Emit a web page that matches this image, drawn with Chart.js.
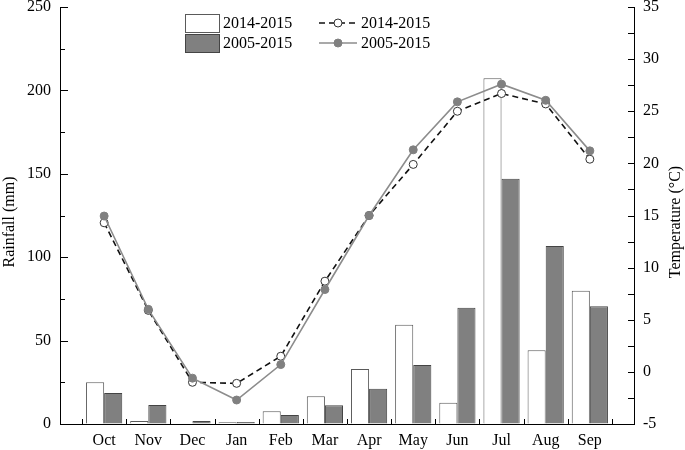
<!DOCTYPE html>
<html>
<head>
<meta charset="utf-8">
<script src="https://cdn.jsdelivr.net/npm/chart.js@4"></script>
<style>
    html, body { margin: 0; padding: 0; background: #fff; }
    #wrap { width: 685px; height: 450px; }
</style>
</head>
<body>
<div id="wrap"><canvas id="chart"></canvas></div>
<script>
// Monthly data, Oct to Sep
const months = ['Oct', 'Nov', 'Dec', 'Jan', 'Feb', 'Mar', 'Apr', 'May', 'Jun', 'Jul', 'Aug', 'Sep'];
const seriesLabels = ['2014-2015', '2005-2015'];
const axisTitles = ['Rainfall (mm)', 'Temperature (°C)'];

// Rainfall (mm)
const rain1415 = [25.0, 1.8, 0.3, 1.0, 7.6, 16.6, 33.0, 59.5, 12.8, 207.3, 44.2, 79.9];
const rain0515 = [18.6, 11.4, 1.8, 1.2, 5.4, 11.2, 21.2, 35.4, 69.7, 147.1, 106.7, 70.6];

// Temperature (°C)
const temp1415 = [14.3, 5.9, -1.0, -1.1, 1.5, 8.7, 15.0, 19.9, 25.0, 26.7, 25.7, 20.4];
const temp0515 = [14.95, 6.0, -0.6, -2.7, 0.7, 7.9, 15.0, 21.3, 25.9, 27.6, 26.05, 21.2];

// Axis ranges
const rainMin = 0, rainMax = 250, rainStep = 50;
const tempMin = -5, tempMax = 35, tempStep = 5;

const FONT = "'Liberation Serif', 'Times New Roman', serif";
const FONT_SIZE = 16;

// one empty slot on each side, so the months sit inside the frame like the original
const labels = ['', ...months, ''];
const pad = arr => [null, ...arr, null];

/**
 * Inward tick marks on all three axes
 */
const insideTicks = {
    id: 'insideTicks',
    afterDatasetsDraw(chart) {
        const { ctx, chartArea, scales } = chart;
        const line = (x1, y1, x2, y2) => {
            ctx.beginPath();
            ctx.moveTo(x1, y1);
            ctx.lineTo(x2, y2);
            ctx.stroke();
        };
        ctx.save();
        ctx.strokeStyle = '#000';
        ctx.lineWidth = 1;

        for (let v = rainMin; v <= rainMax; v += rainStep / 2) {
            const py = Math.round(scales.y.getPixelForValue(v)) + 0.5;
            line(chartArea.left, py, chartArea.left + (v % rainStep === 0 ? 8 : 5), py);
        }
        for (let v = tempMin; v <= tempMax; v += tempStep / 2) {
            const py = Math.round(scales.y2.getPixelForValue(v)) + 0.5;
            line(chartArea.right, py, chartArea.right - 6, py);
        }
        for (let i = 0; i <= months.length; i++) {
            const px = Math.round(scales.x.getPixelForValue(i + 0.5)) + 0.5;
            line(px, chartArea.bottom, px, chartArea.bottom - 5);
        }
        ctx.restore();
    }
};

/**
 * Axis titles, both reading bottom to top
 */
const axisTitleText = {
    id: 'axisTitleText',
    afterDraw(chart) {
        const { ctx } = chart;
        ctx.save();
        ctx.font = FONT_SIZE + 'px ' + FONT;
        ctx.fillStyle = '#000';
        ctx.textAlign = 'center';
        ctx.textBaseline = 'middle';
        [[10, axisTitles[0]], [676, axisTitles[1]]].forEach(([x, text]) => {
            ctx.save();
            ctx.translate(x, 222);
            ctx.rotate(-Math.PI / 2);
            ctx.fillText(text, 0, 0);
            ctx.restore();
        });
        ctx.restore();
    }
};

/**
 * Two-column legend: bars on the left, lines on the right
 */
const boxLegend = {
    id: 'boxLegend',
    afterDraw(chart) {
        const { ctx } = chart;
        const ds = chart.data.datasets;
        ctx.save();
        ctx.font = FONT_SIZE + 'px ' + FONT;
        ctx.fillStyle = '#000';
        ctx.textBaseline = 'middle';

        const rows = [23, 43];
        // bar swatches
        [0, 1].forEach((k, r) => {
            const top = rows[r] - 9;
            ctx.fillStyle = ds[k].backgroundColor;
            ctx.fillRect(185.5, top + 0.5, 34, 18);
            ctx.strokeStyle = ds[k].borderColor;
            ctx.lineWidth = 1;
            ctx.strokeRect(185.5, top + 0.5, 34, 18);
            ctx.fillStyle = '#000';
            ctx.fillText(ds[k].label, 223, rows[r] + 1);
        });
        // line swatches
        [2, 3].forEach((k, r) => {
            const y = rows[r];
            ctx.strokeStyle = ds[k].borderColor;
            ctx.lineWidth = ds[k].borderWidth;
            ctx.setLineDash(ds[k].borderDash || []);
            ctx.beginPath();
            ctx.moveTo(319, y);
            ctx.lineTo(357, y);
            ctx.stroke();
            ctx.setLineDash([]);
            ctx.beginPath();
            ctx.arc(338, y, 4, 0, Math.PI * 2);
            ctx.fillStyle = ds[k].pointBackgroundColor;
            ctx.fill();
            ctx.lineWidth = 1;
            ctx.strokeStyle = ds[k].pointBorderColor;
            ctx.stroke();
            ctx.fillStyle = '#000';
            ctx.fillText(ds[k].label, 361, y + 1);
        });
        ctx.restore();
    }
};

// fixed axis widths and no extra label padding, so the frame lands where the original has it
const fixWidth = (w) => (scale) => {
    scale.width = w;
    scale.paddingTop = 0;
    scale.paddingBottom = 0;
};

const canvas = document.getElementById('chart');

new Chart(canvas, {
    data: {
        labels: labels,
        datasets: [
            {
                type: 'bar',
                label: seriesLabels[0],
                data: pad(rain1415),
                yAxisID: 'y',
                backgroundColor: '#ffffff',
                borderColor: '#5a5a5a',
                borderWidth: 1,
                categoryPercentage: 0.82,
                barPercentage: 1.0,
                order: 2
            },
            {
                type: 'bar',
                label: seriesLabels[1],
                data: pad(rain0515),
                yAxisID: 'y',
                backgroundColor: '#808080',
                borderColor: '#444444',
                borderWidth: 1,
                categoryPercentage: 0.82,
                barPercentage: 1.0,
                order: 2
            },
            {
                type: 'line',
                label: seriesLabels[0],
                data: pad(temp1415),
                yAxisID: 'y2',
                borderColor: '#111111',
                borderWidth: 1.6,
                borderDash: [6, 4],
                pointRadius: 4,
                pointBackgroundColor: '#ffffff',
                pointBorderColor: '#333333',
                pointBorderWidth: 1,
                tension: 0,
                order: 1
            },
            {
                type: 'line',
                label: seriesLabels[1],
                data: pad(temp0515),
                yAxisID: 'y2',
                borderColor: '#8c8c8c',
                borderWidth: 1.6,
                pointRadius: 4,
                pointBackgroundColor: '#808080',
                pointBorderColor: '#808080',
                pointBorderWidth: 1,
                tension: 0,
                order: 0
            }
        ]
    },
    options: {
        responsive: true,
        maintainAspectRatio: false,
        animation: false,
        layout: { padding: { top: 7, left: 0, right: 0, bottom: 0 } },
        plugins: {
            legend: { display: false },
            tooltip: { enabled: false }
        },
        scales: {
            x: {
                type: 'category',
                offset: false,
                grid: { display: true, drawOnChartArea: false, drawTicks: false },
                border: { display: true, color: '#000', width: 1 },
                ticks: {
                    autoSkip: false,
                    maxRotation: 0,
                    padding: 7,
                    color: '#000',
                    font: { family: FONT, size: FONT_SIZE }
                },
                afterFit: (scale) => {
                    scale.height = 26;
                    scale.paddingLeft = 0;
                    scale.paddingRight = 0;
                }
            },
            y: {
                position: 'left',
                min: rainMin,
                max: rainMax,
                grid: { display: true, drawOnChartArea: false, drawTicks: false },
                border: { display: true, color: '#000', width: 1 },
                ticks: {
                    stepSize: rainStep,
                    padding: 9,
                    color: '#000',
                    font: { family: FONT, size: FONT_SIZE }
                },
                afterFit: fixWidth(60)
            },
            y2: {
                position: 'right',
                min: tempMin,
                max: tempMax,
                grid: { display: true, drawOnChartArea: false, drawTicks: false },
                border: { display: true, color: '#000', width: 1 },
                ticks: {
                    stepSize: tempStep,
                    padding: 9,
                    color: '#000',
                    font: { family: FONT, size: FONT_SIZE }
                },
                afterFit: fixWidth(51)
            }
        }
    },
    plugins: [insideTicks, axisTitleText, boxLegend]
});
</script>
</body>
</html>
